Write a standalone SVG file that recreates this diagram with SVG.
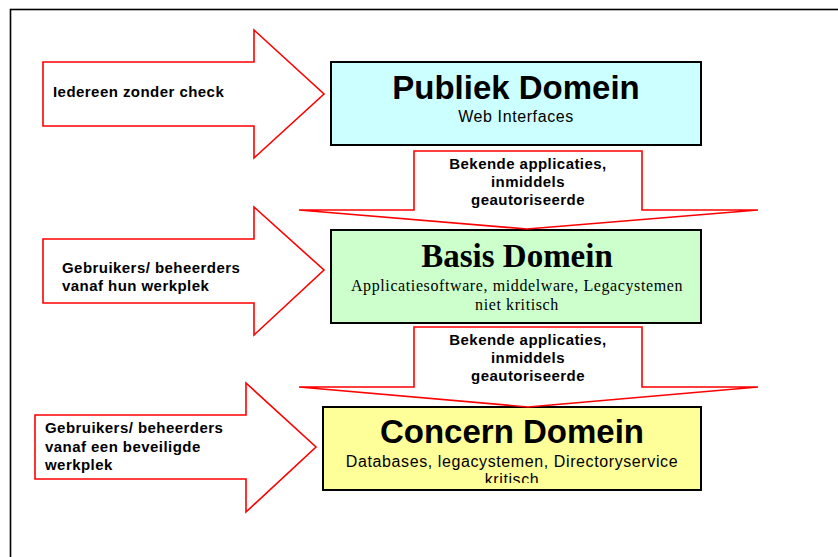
<svg xmlns="http://www.w3.org/2000/svg" width="838" height="557" viewBox="0 0 838 557">
<style>
.arrow{fill:#fff;stroke:#f00;stroke-width:1.6;stroke-linejoin:miter}
.box{stroke:#000;stroke-width:2}
.lbl{font-family:"Liberation Sans",Arial,sans-serif;font-weight:bold;font-size:15px;letter-spacing:0.45px;fill:#000}
.title{font-family:"Liberation Sans",Arial,sans-serif;font-weight:bold;font-size:33px;fill:#000;text-anchor:middle}
.sub{font-family:"Liberation Sans",Arial,sans-serif;font-size:16px;letter-spacing:0.6px;fill:#000;text-anchor:middle}
.ttitle{font-family:"Liberation Serif","Times New Roman",serif;font-weight:bold;font-size:33px;fill:#000;text-anchor:middle}
.tsub{font-family:"Liberation Serif","Times New Roman",serif;font-size:16px;letter-spacing:0.6px;fill:#000;text-anchor:middle}
.mid{text-anchor:middle}
</style>
<defs>
<clipPath id="cc"><rect x="324" y="408" width="376" height="75"/></clipPath>
</defs>
<rect width="838" height="557" fill="#fff"/>
<rect x="10.5" y="9.5" width="900" height="600" fill="none" stroke="#000" stroke-width="1.6"/>

<g id="publiek">
<rect class="box" x="331" y="62" width="370" height="83" fill="#CCFFFF"/>
<text class="title" x="516" y="99">Publiek Domein</text>
<text class="sub" x="516" y="122">Web Interfaces</text>
</g>
<g id="basis">
<rect class="box" x="331" y="230" width="370" height="93" fill="#CCFFCC"/>
<text class="ttitle" x="517" y="267">Basis Domein</text>
<text class="tsub" x="517" y="291">Applicatiesoftware, middelware, Legacystemen</text>
<text class="tsub" x="517" y="310">niet kritisch</text>
</g>
<g id="concern">
<rect class="box" x="323" y="407" width="378" height="83" fill="#FFFF99"/>
<text class="title" x="512" y="443">Concern Domein</text>
<g clip-path="url(#cc)">
<text class="sub" x="512" y="467">Databases, legacystemen, Directoryservice</text>
<text class="sub" x="512" y="485">kritisch</text>
</g>
</g>

<g id="connectors">
<g id="arrow-iedereen">
<polygon class="arrow" points="43,62 254,62 254,30 324,94 254,158 254,126 43,126"/>
<text class="lbl" x="53" y="97">Iedereen zonder check</text>
</g>
<g id="arrow-gebruikers1">
<polygon class="arrow" points="43,239 254,239 254,207 324,270 254,335 254,303 43,303"/>
<text class="lbl" x="62" y="273">Gebruikers/ beheerders</text>
<text class="lbl" x="62" y="291">vanaf hun werkplek</text>
</g>
<g id="arrow-gebruikers2">
<polygon class="arrow" points="35,415 246,415 246,383 316,447 246,512 246,479 35,479"/>
<text class="lbl" x="45" y="433">Gebruikers/ beheerders</text>
<text class="lbl" x="45" y="452">vanaf een beveiligde</text>
<text class="lbl" x="45" y="470">werkplek</text>
</g>
<g id="arrow-down1">
<polygon class="arrow" points="414,151 642,151 642,210 758,210 527,229 299,210 414,210"/>
<text class="lbl mid" x="528" y="169">Bekende applicaties,</text>
<text class="lbl mid" x="528" y="187">inmiddels</text>
<text class="lbl mid" x="528" y="205">geautoriseerde</text>
</g>
<g id="arrow-down2">
<polygon class="arrow" points="414,327 642,327 642,387 758,387 528,407 299,387 414,387"/>
<text class="lbl mid" x="528" y="345">Bekende applicaties,</text>
<text class="lbl mid" x="528" y="363">inmiddels</text>
<text class="lbl mid" x="528" y="381">geautoriseerde</text>
</g>
</g>
</svg>
